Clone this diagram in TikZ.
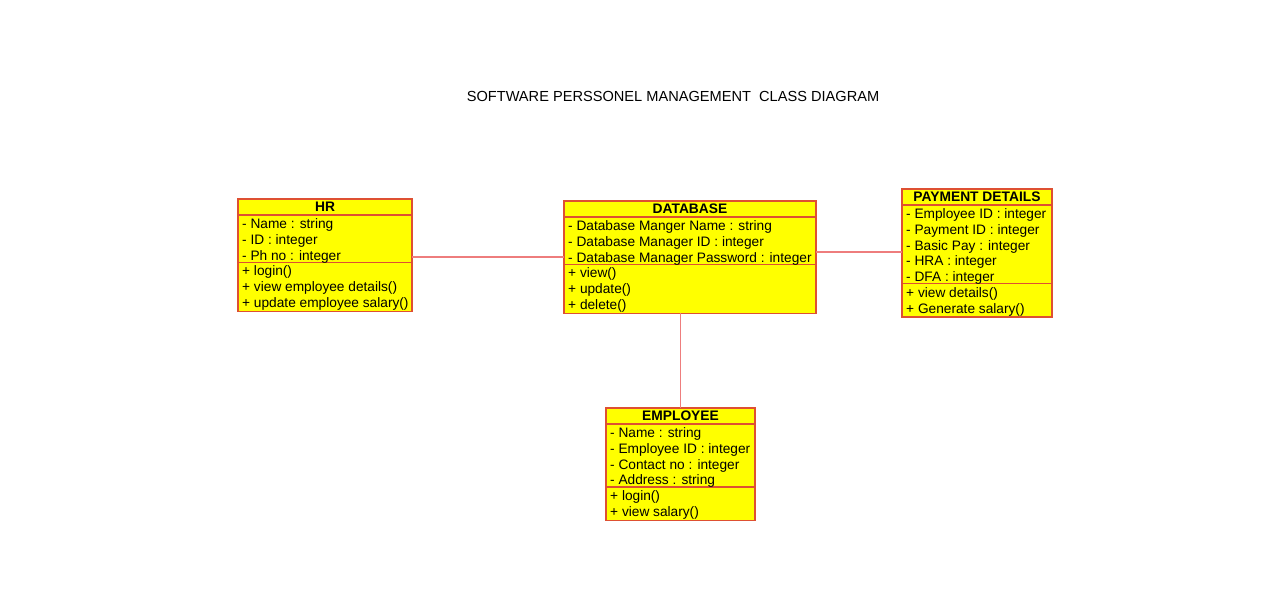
\documentclass[tikz,border=0pt]{standalone}
\usepackage{fontspec}
\setmainfont{Liberation Sans}
\definecolor{umlfill}{RGB}{255,255,0}
\definecolor{umlborder}{RGB}{222,80,50}
\definecolor{umlline}{RGB}{238,125,125}
\tikzset{
  classbox/.style={draw=umlborder, line width=1.3pt, fill=umlfill, inner sep=0pt, outer sep=0pt},
  divider/.style={draw=umlborder, line width=1.2pt},
  member/.style={anchor=base west, inner sep=0pt, font=\fontsize{13.7}{15}\selectfont, text=black},
  ctitle/.style={anchor=base, inner sep=0pt, font=\fontsize{13.8}{15}\selectfont\bfseries, text=black},
  assoc/.style={draw=umlline, line width=1.2pt},
}
% #1 name, #2 left, #3 top, #4 right, #5 title, #6 attrs, #7 nattrs, #8 methods, #9 nmethods
\newcommand{\umlclass}[9]{%
  \pgfmathsetmacro{\ya}{#3+16}%
  \pgfmathsetmacro{\yb}{\ya+#7*15.75}%
  \pgfmathsetmacro{\yc}{\yb+#9*15.75+1.8}%
  \node[classbox, minimum width={(#4-#2)*1pt}, minimum height={(\yc-#3)*1pt}] (#1) at ({(#2+#4)/2},{(#3+\yc)/2}) {};
  \draw[divider] (#2,\ya) -- (#4,\ya);
  \draw[divider] (#2,\yb) -- (#4,\yb);
  \node[ctitle] (#1-t) at ({(#2+#4)/2},{#3+12.5}) {#5};
  \foreach \s [count=\i] in {#6} {\node[member] (#1-a\i) at (#2+4,{\ya+13.6+(\i-1)*15.75}) {\s};}
  \foreach \s [count=\i] in {#8} {\node[member] (#1-m\i) at (#2+4,{\yb+13.6+(\i-1)*15.75}) {\s};}
}
\begin{document}
\begin{tikzpicture}[x=1pt,y=-1pt]
\useasboundingbox (0,0) rectangle (1280,600);
\fill[white] (0,0) rectangle (1280,600);
\node[inner sep=0pt, anchor=base, font=\fontsize{14.6}{16}\selectfont] (title) at (673,101) {SOFTWARE PERSSONEL MANAGEMENT\ \ CLASS DIAGRAM};
\umlclass{hr}{238}{199}{412}{HR}{- Name : string,- ID : integer,- Ph no : integer}{3}{+ login(),+ view employee details(),+ update employee salary()}{3}
\umlclass{db}{564}{201}{816}{DATABASE}{- Database Manger Name : string,- Database Manager ID : integer,- Database Manager Password : integer}{3}{+ view(),+ update(),+ delete()}{3}
\umlclass{pay}{902}{189}{1052}{PAYMENT DETAILS}{- Employee ID : integer,- Payment ID : integer,- Basic Pay : integer,- HRA : integer,- DFA : integer}{5}{+ view details(),+ Generate salary()}{2}
\umlclass{emp}{606}{408}{755}{EMPLOYEE}{- Name : string,- Employee ID : integer,- Contact no : integer,- Address : string}{4}{+ login(),+ view salary()}{2}
\draw[assoc] (hr.east |- 0,257) -- (db.west |- 0,257);
\draw[assoc] (db.east |- 0,252) -- (pay.west |- 0,252);
\draw[assoc] (db.south -| emp.north) -- (emp.north);
\end{tikzpicture}
\end{document}
